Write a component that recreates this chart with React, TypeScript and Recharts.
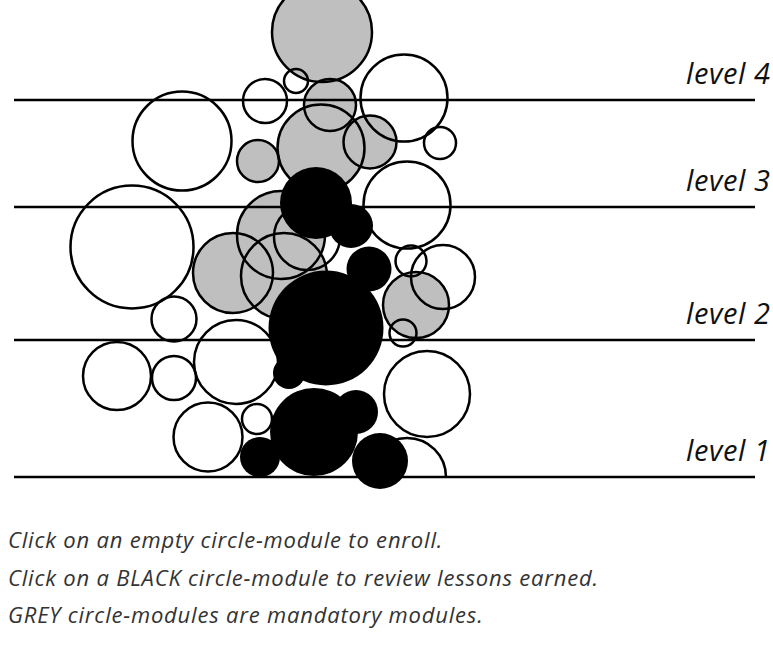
import { ScatterChart, Scatter, XAxis, YAxis } from "recharts";

// horizontal level lines (y measured downward from the top of the plot)
const levelNames = ["level 4", "level 3", "level 2", "level 1"];
const levelY = [100, 207, 340, 477];
const lineFrom = 14;
const lineTo = 755;

// mandatory modules (grey)
const greyModules = [
  { x: 322, y: 32, r: 50 },
  { x: 330, y: 105, r: 26 },
  { x: 321, y: 148, r: 43.5 },
  { x: 370, y: 142, r: 26.5 },
  { x: 258, y: 161, r: 21 },
  { x: 281, y: 235, r: 44 },
  { x: 233, y: 273, r: 40 },
  { x: 284, y: 276, r: 43 },
  { x: 416, y: 305, r: 33 },
];

// empty modules (outline only)
const emptyModules = [
  { x: 296, y: 81, r: 12 },
  { x: 265, y: 101, r: 22 },
  { x: 404, y: 98, r: 43.5 },
  { x: 440, y: 143, r: 16 },
  { x: 182, y: 141, r: 49.5 },
  { x: 407, y: 205, r: 43.5 },
  { x: 307, y: 237, r: 33 },
  { x: 132, y: 247, r: 61.5 },
  { x: 411, y: 261, r: 15.5 },
  { x: 443, y: 277, r: 32 },
  { x: 403, y: 333, r: 13.5 },
  { x: 174, y: 319, r: 22.5 },
  { x: 236, y: 362, r: 42 },
  { x: 117, y: 376, r: 34 },
  { x: 174, y: 378, r: 22 },
  { x: 427, y: 394, r: 43 },
  { x: 208, y: 437, r: 34.5 },
  { x: 257, y: 419, r: 15 },
];

// empty module cut off by the level 1 line
const cutModules = [{ x: 407, y: 477, r: 39 }];

// earned modules (black)
const earnedModules = [
  { x: 316, y: 203, r: 36 },
  { x: 351, y: 226, r: 22 },
  { x: 369, y: 269, r: 22.5 },
  { x: 326, y: 328, r: 57.5 },
  { x: 289, y: 373, r: 16 },
  { x: 314, y: 432, r: 44 },
  { x: 356, y: 412, r: 22 },
  { x: 380, y: 461, r: 28 },
  { x: 260, y: 457, r: 20 },
];

const notes = [
  "Click on an empty circle-module to enroll.",
  "Click on a BLACK circle-module to review lessons earned.",
  "GREY circle-modules are mandatory modules.",
];

const W = 773;
const H = 490;
const LABEL_X = 686;
const STROKE = 2.5;

const GreyFill = (p: any) => <circle cx={p.cx} cy={p.cy} r={p.payload.r} fill="#bfbfbf" />;

const Ring = (p: any) => (
  <circle cx={p.cx} cy={p.cy} r={p.payload.r} fill="none" stroke="#000" strokeWidth={STROKE} />
);

const HalfRing = (p: any) => {
  const r = p.payload.r;
  return (
    <path
      d={`M${p.cx - r},${p.cy} A${r},${r} 0 0 1 ${p.cx + r},${p.cy}`}
      fill="none"
      stroke="#000"
      strokeWidth={STROKE}
    />
  );
};

const BlackDot = (p: any) => <circle cx={p.cx} cy={p.cy} r={p.payload.r} fill="#000" />;

const NoMark = () => <g />;

const LevelLabel = (p: any) => (
  <text
    x={p.cx}
    y={p.cy - 16}
    fontFamily="'Open Sans', sans-serif"
    fontStyle="italic"
    fontSize={29}
    letterSpacing={0.6}
    fill="#111"
  >
    {p.payload.name}
  </text>
);

export default function App() {
  const labels = levelNames.map((name, i) => ({ x: LABEL_X, y: levelY[i], name }));

  return (
    <div style={{ position: "absolute", left: 0, top: 0, width: W, height: 649, background: "#fff" }}>
      <ScatterChart width={W} height={H} margin={{ top: 0, right: 0, bottom: 0, left: 0 }}>
        <XAxis type="number" dataKey="x" domain={[0, W]} hide />
        <YAxis type="number" dataKey="y" domain={[0, H]} reversed hide />
        <Scatter data={greyModules} shape={GreyFill} isAnimationActive={false} />
        {levelY.map((y) => (
          <Scatter
            key={y}
            data={[
              { x: lineFrom, y },
              { x: lineTo, y },
            ]}
            line={{ stroke: "#000", strokeWidth: STROKE }}
            shape={NoMark}
            isAnimationActive={false}
          />
        ))}
        <Scatter data={greyModules} shape={Ring} isAnimationActive={false} />
        <Scatter data={emptyModules} shape={Ring} isAnimationActive={false} />
        <Scatter data={cutModules} shape={HalfRing} isAnimationActive={false} />
        <Scatter data={earnedModules} shape={BlackDot} isAnimationActive={false} />
        <Scatter data={labels} shape={LevelLabel} isAnimationActive={false} />
      </ScatterChart>
      <div
        style={{
          position: "absolute",
          left: 8,
          top: 521,
          fontFamily: "'Open Sans', sans-serif",
          fontStyle: "italic",
          fontSize: 22,
          letterSpacing: 0.8,
          lineHeight: "37.5px",
          color: "#333",
        }}
      >
        {notes.map((n) => (
          <div key={n}>{n}</div>
        ))}
      </div>
    </div>
  );
}
